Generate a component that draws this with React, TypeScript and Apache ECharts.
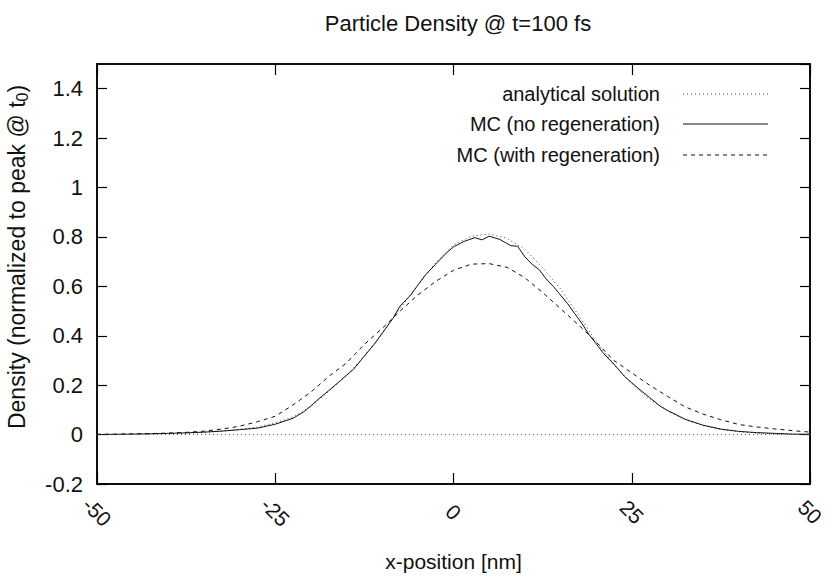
import React, { useEffect, useRef } from "react";
import * as echarts from "echarts";

const TITLE = "Particle Density @ t=100 fs";
const X_NAME = "x-position [nm]";
const SERIES_NAMES = ["analytical solution", "MC (no regeneration)", "MC (with regeneration)"];
const X_TICKS = [-50, -25, 0, 25, 50];

// common x grid for analytical and regenerated MC curves
const xs = [
  -50, -47.5, -45, -42.5, -40, -37.5, -35, -32.5, -30, -27.5, -25, -22.5, -20, -17.5, -15, -12.5, -10,
  -7.5, -5, -2.5, 0, 2.5, 5, 7.5, 10, 12.5, 15, 17.5, 20, 22.5, 25, 27.5, 30, 32.5, 35, 37.5, 40, 42.5,
  45, 47.5, 50,
];
const analytical = [
  0.0, 0.0, 0.001, 0.002, 0.003, 0.005, 0.009, 0.014, 0.021, 0.031, 0.047, 0.072, 0.115, 0.175, 0.24,
  0.318, 0.41, 0.51, 0.605, 0.695, 0.768, 0.803, 0.812, 0.795, 0.75, 0.675, 0.59, 0.485, 0.378, 0.283,
  0.205, 0.143, 0.096, 0.06, 0.036, 0.021, 0.012, 0.006, 0.003, 0.001, 0.0,
];
const mcRegen = [
  0.001, 0.002, 0.003, 0.004, 0.006, 0.009, 0.014, 0.022, 0.034, 0.052, 0.074, 0.12, 0.172, 0.235,
  0.29, 0.365, 0.43, 0.5, 0.565, 0.62, 0.665, 0.69, 0.692, 0.677, 0.635, 0.575, 0.51, 0.445, 0.375,
  0.3, 0.25, 0.2, 0.155, 0.112, 0.083, 0.06, 0.041, 0.031, 0.023, 0.016, 0.01,
];

// MC without regeneration (noisy, own x grid)
const xsNoRegen = [
  -50, -47.5, -45, -42.5, -40, -37.5, -35, -32.5, -30, -27.5, -25, -22.5, -21, -20, -19, -17.5, -16, -15,
  -14, -12.5, -11, -10, -8.5, -7.5, -6, -5, -4, -2.5, -1, 0, 1.5, 3, 4, 5, 6.5, 8, 9, 10, 11, 12, 13, 14,
  15, 16, 17, 18, 19, 20, 21, 22.5, 24, 25, 26, 27.5, 29, 30, 32.5, 35, 37.5, 40, 42.5, 45, 47.5, 50,
];
const mcNoRegen = [
  0.0, 0.001, 0.002, 0.003, 0.005, 0.007, 0.01, 0.014, 0.02, 0.026, 0.042, 0.066, 0.092, 0.116, 0.142,
  0.178, 0.215, 0.24, 0.265, 0.318, 0.37, 0.41, 0.47, 0.52, 0.565, 0.605, 0.644, 0.69, 0.735, 0.76,
  0.782, 0.797, 0.788, 0.803, 0.79, 0.765, 0.762, 0.72, 0.69, 0.668, 0.63, 0.6, 0.565, 0.53, 0.49, 0.45,
  0.405, 0.368, 0.33, 0.285, 0.235, 0.21, 0.185, 0.15, 0.115, 0.098, 0.062, 0.038, 0.022, 0.013, 0.008,
  0.005, 0.002, 0.001,
];

const FONT = "'Liberation Sans', Arial, Helvetica, sans-serif";
const TXT = "#111";
const FS = 20;

export default function App() {
  const ref = useRef<HTMLDivElement>(null);
  useEffect(() => {
    if (!ref.current) return;
    const chart = echarts.init(ref.current, undefined, { renderer: "svg" });
    const pair = (x: number[], y: number[]) => x.map((v, i) => [v, y[i]]);
    const legendRows = [
      { y: 94, dash: [1, 3], color: "#444" },
      { y: 124, dash: null, color: "#111" },
      { y: 155, dash: [4, 4], color: "#111" },
    ];
    const legendGraphics: any[] = [];
    legendRows.forEach((r, i) => {
      legendGraphics.push({
        type: "text",
        x: 660,
        y: r.y,
        style: {
          text: SERIES_NAMES[i],
          font: `${FS}px ${FONT}`,
          fill: TXT,
          align: "right",
          verticalAlign: "middle",
        },
      });
      legendGraphics.push({
        type: "line",
        shape: { x1: 683, y1: r.y, x2: 768, y2: r.y },
        style: { stroke: r.color, lineWidth: 1, lineDash: r.dash || undefined },
      });
    });

    chart.setOption({
      animation: false,
      backgroundColor: "#fff",
      title: {
        text: TITLE,
        left: 453,
        top: 7,
        textAlign: "center",
        textStyle: { fontFamily: FONT, fontSize: 22, fontWeight: "normal", color: TXT },
      },
      grid: {
        left: 97,
        right: 22,
        top: 64,
        bottom: 103,
        show: true,
        borderColor: "#000",
        borderWidth: 1.5,
        backgroundColor: "transparent",
      },
      xAxis: [
        {
          type: "value",
          min: -50,
          max: 50,
          interval: 25,
          name: X_NAME,
          nameLocation: "middle",
          nameGap: 67,
          nameTextStyle: { fontFamily: FONT, fontSize: 21, color: TXT },
          axisLine: { show: true, onZero: false, lineStyle: { color: "#000", width: 1.5 } },
          axisTick: { show: true, inside: true, length: 11, lineStyle: { color: "#000", width: 1.2 } },
          axisLabel: {
            rotate: -45,
            align: "center",
            verticalAlign: "middle",
            margin: 28,
            fontFamily: FONT,
            fontSize: 21,
            color: TXT,
            formatter: (v: number) => (X_TICKS.includes(v) ? String(v) : ""),
          },
          splitLine: { show: false },
        },
        {
          type: "value",
          position: "top",
          min: -50,
          max: 50,
          interval: 25,
          axisLine: { show: true, onZero: false, lineStyle: { color: "#000", width: 1.5 } },
          axisTick: { show: true, inside: true, length: 11, lineStyle: { color: "#000", width: 1.2 } },
          axisLabel: { show: false },
          splitLine: { show: false },
        },
      ],
      yAxis: [
        {
          type: "value",
          min: -0.2,
          max: 1.5,
          interval: 0.2,
          axisLine: { show: true, onZero: false, lineStyle: { color: "#000", width: 1.5 } },
          axisTick: { show: true, inside: true, length: 10, lineStyle: { color: "#000", width: 1.2 } },
          axisLabel: {
            margin: 14,
            fontFamily: FONT,
            fontSize: 22,
            color: TXT,
            showMaxLabel: false,
            formatter: (v: number) => (v > 1.45 ? "" : String(Number(v.toFixed(1)))),
          },
          splitLine: { show: false },
        },
        {
          type: "value",
          position: "right",
          min: -0.2,
          max: 1.5,
          interval: 0.2,
          axisLine: { show: true, onZero: false, lineStyle: { color: "#000", width: 1.5 } },
          axisTick: { show: true, inside: true, length: 10, lineStyle: { color: "#000", width: 1.2 } },
          axisLabel: { show: false },
          splitLine: { show: false },
        },
      ],
      series: [
        {
          name: SERIES_NAMES[0],
          type: "line",
          data: pair(xs, analytical),
          showSymbol: false,
          symbol: "none",
          lineStyle: { color: "#444", width: 1, type: [1, 3] },
          markLine: {
            silent: true,
            symbol: ["none", "none"],
            label: { show: false },
            data: [{ yAxis: 0 }],
            lineStyle: { color: "#555", width: 1, type: [1, 3] },
          },
        },
        {
          name: SERIES_NAMES[1],
          type: "line",
          data: pair(xsNoRegen, mcNoRegen),
          showSymbol: false,
          symbol: "none",
          lineStyle: { color: "#111", width: 1, type: "solid" },
        },
        {
          name: SERIES_NAMES[2],
          type: "line",
          data: pair(xs, mcRegen),
          showSymbol: false,
          symbol: "none",
          lineStyle: { color: "#111", width: 1, type: [4, 4] },
        },
      ],
      graphic: [
        {
          type: "text",
          x: 17,
          y: 257,
          rotation: Math.PI / 2,
          style: {
            text: "{m|Density (normalized to peak @ t}{s|0}{m|)}",
            align: "center",
            verticalAlign: "middle",
            rich: {
              m: { fontFamily: FONT, fontSize: 23, fill: TXT, color: TXT },
              s: { fontFamily: FONT, fontSize: 16, fill: TXT, color: TXT, padding: [11, 0, 0, 0] },
            },
          },
        },
        ...legendGraphics,
      ],
    });
    return () => chart.dispose();
  }, []);
  return (
    <div
      ref={ref}
      style={{ position: "absolute", left: 0, top: 0, width: 832, height: 587 }}
    />
  );
}
